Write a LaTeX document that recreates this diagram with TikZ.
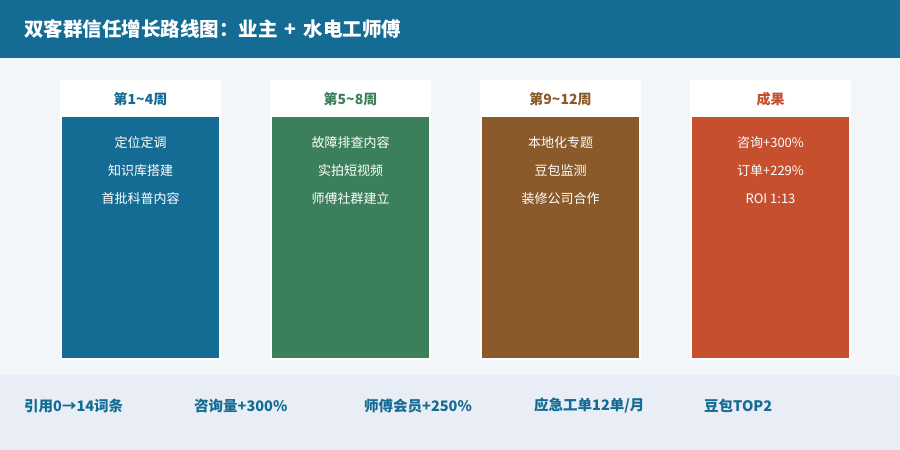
\documentclass[tikz,border=0pt]{standalone}
\usepackage{fontspec}
\setmainfont{Noto Sans CJK SC}
\begin{document}
\begin{tikzpicture}[x=1pt,y=-1pt,
  title/.style={anchor=west,text=white,font=\fontsize{19.5}{22}\selectfont\bfseries,inner sep=0},
  card/.style={fill=white,draw=none},
  head/.style={font=\fontsize{14}{16}\selectfont\bfseries,inner sep=0},
  item/.style={text=white,font=\fontsize{13}{15}\selectfont,inner sep=0},
  metric/.style={anchor=west,text=hblue,font=\fontsize{14.5}{16}\selectfont\bfseries,inner sep=0}]
\definecolor{hblue}{HTML}{146B93}
\definecolor{cgreen}{HTML}{3B805B}
\definecolor{cbrown}{HTML}{8A5A2B}
\definecolor{cred}{HTML}{C64F2E}
\definecolor{bg}{HTML}{F3F6F9}
\definecolor{band}{HTML}{E9EDF5}
\useasboundingbox (0,0) rectangle (900,450);
\fill[bg] (0,0) rectangle (900,450);
\fill[hblue] (0,0) rectangle (900,58);
\fill[band] (0,375) rectangle (900,450);
\node[title] (t) at (24,29) {双客群信任增长路线图：业主\hspace{7pt}+\hspace{7pt}水电工师傅};
% columns
\foreach \i/\c/\h/\a/\b/\d in {0/hblue/第1\textasciitilde 4周/定位定调/知识库搭建/首批科普内容,
  1/cgreen/第5\textasciitilde 8周/故障排查内容/实拍短视频/师傅社群建立,
  2/cbrown/第9\textasciitilde 12周/本地化专题/豆包监测/装修公司合作,
  3/cred/成果/咨询+300\%/订单+229\%/ROI 1:13}{
  \pgfmathsetmacro{\xl}{60+210*\i}
  \fill[card] (\xl,80) rectangle ++(161,280);
  \fill[\c] (\xl+2,117) rectangle ++(157,241);
  \node[head,text=\c] (h\i) at (\xl+80.5,99) {\h};
  \node[item] (a\i) at (\xl+80.5,143) {\a};
  \node[item] (b\i) at (\xl+80.5,171) {\b};
  \node[item] (d\i) at (\xl+80.5,199) {\d};
}
\node[metric] (m1) at (24,406) {引用0→14词条};
\node[metric] (m2) at (194,406) {咨询量+300\%};
\node[metric] (m3) at (364,406) {师傅会员+250\%};
\node[metric] (m4) at (534,406) {应急工单12单/月};
\node[metric] (m5) at (704,406) {豆包TOP2};
\end{tikzpicture}
\end{document}
